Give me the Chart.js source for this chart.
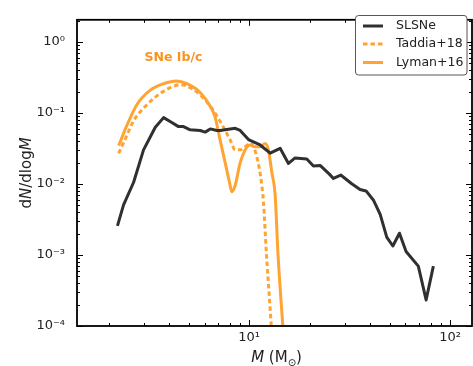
<!DOCTYPE html>
<html>
<head>
<meta charset="utf-8">
<script src="https://cdn.jsdelivr.net/npm/chart.js@4"></script>
<style>
  body { margin: 0; background: #fff; }
  #wrap { width: 473px; height: 366px; }
</style>
</head>
<body>
<div id="wrap"><canvas id="chart"></canvas></div>
<script>
// values (mass in Msun, dN/dlogM)
const slsneMass = [2.21, 2.37, 2.66, 2.98, 3.41, 3.75, 4.12, 4.45, 4.71, 5.09, 5.70, 6.04, 6.40, 6.91, 7.17, 8.52, 9.02, 9.92, 11.34, 12.72, 14.26, 15.69, 16.93, 19.36, 20.89, 22.55, 25.08, 26.25, 28.57, 32.4, 35.65, 38.2, 41.5, 44.9, 48.4, 51.9, 56.0, 60.4, 69.5, 76.0, 82.6];
const slsneDens = [0.00258, 0.0051, 0.0106, 0.0303, 0.063, 0.0863, 0.0738, 0.0644, 0.0644, 0.058, 0.0568, 0.0539, 0.0598, 0.0568, 0.0568, 0.061, 0.0568, 0.0423, 0.0355, 0.0272, 0.0319, 0.0195, 0.0233, 0.0226, 0.0179, 0.0183, 0.0138, 0.0120, 0.0134, 0.0101, 0.00836, 0.0080, 0.00597, 0.00373, 0.00179, 0.00134, 0.00203, 0.00112, 0.000698, 0.000233, 0.000698];

const taddiaMass = [2.24, 2.42, 2.66, 3.10, 3.61, 4.12, 4.54, 5.19, 5.93, 6.40, 6.91, 7.45, 8.05, 8.52, 9.02, 9.55, 10.1, 10.5, 10.9, 11.25, 11.56, 11.78, 12.18, 12.65, 12.95];
const taddiaDens = [0.027, 0.0436, 0.0778, 0.131, 0.189, 0.233, 0.251, 0.221, 0.162, 0.125, 0.091, 0.063, 0.0415, 0.0303, 0.0303, 0.0336, 0.0373, 0.0336, 0.0246, 0.0162, 0.0096, 0.00566, 0.00106, 0.00022, 0.00008];

const lymanMass = [2.24, 2.46, 2.76, 3.22, 3.75, 4.35, 4.90, 5.70, 6.40, 6.78, 7.17, 7.60, 7.98, 8.20, 8.52, 9.02, 9.55, 10.1, 10.7, 11.34, 12.0, 12.47, 12.97, 13.47, 13.91, 14.42, 14.8];
const lymanDens = [0.0347, 0.0665, 0.131, 0.21, 0.259, 0.283, 0.259, 0.195, 0.125, 0.0863, 0.0415, 0.0199, 0.0106, 0.0078, 0.0096, 0.0199, 0.0303, 0.0355, 0.0336, 0.0336, 0.0373, 0.0303, 0.0145, 0.00699, 0.00106, 0.00022, 0.00008];

const seriesLabels = ["SLSNe", "Taddia+18", "Lyman+16"];
const xTickValues = [10, 100];
const yTickValues = [1e-4, 1e-3, 1e-2, 1e-1, 1];
const noteText = "SNe Ib/c";

const BLACK = "#303030";
const ORANGE = "#FFA433";
const FONT = "'DejaVu Sans', sans-serif";

const supMap = { "-": "\u207B", "0": "\u2070", "1": "\u00B9", "2": "\u00B2", "3": "\u00B3", "4": "\u2074" };
function powLabel(v) {
  const e = Math.round(Math.log10(v));
  return "10" + String(e).split("").map((c) => supMap[c]).join("");
}

const pts = (xs, ys) => xs.map((x, i) => ({ x: x, y: ys[i] }));

// draws a run of text pieces with different fonts, centred on cx
function drawRuns(ctx, runs, cx, cy) {
  let w = 0;
  runs.forEach((r) => { ctx.font = r.font; r.w = ctx.measureText(r.t).width; w += r.w; });
  let x = cx - w / 2;
  runs.forEach((r) => {
    ctx.font = r.font;
    ctx.fillText(r.t, x, cy + (r.dy || 0));
    x += r.w;
  });
}

const decor = {
  id: "decor",
  afterDatasetsDraw(chart) {
    const { ctx, chartArea: a, scales } = chart;
    const sx = scales.x, sy = scales.y;
    ctx.save();
    ctx.strokeStyle = "#000";
    ctx.lineWidth = 1;
    ctx.beginPath();
    // x ticks, bottom and top, pointing inward
    for (let k = 0; k <= 2; k++) {
      for (let m = 1; m <= 9; m++) {
        const v = m * Math.pow(10, k);
        if (v < sx.min || v > sx.max) continue;
        const px = Math.round(sx.getPixelForValue(v)) + 0.5;
        const len = m === 1 ? 6 : 3;
        ctx.moveTo(px, a.bottom); ctx.lineTo(px, a.bottom - len);
        ctx.moveTo(px, a.top); ctx.lineTo(px, a.top + len);
      }
    }
    for (let k = -4; k <= 0; k++) {
      for (let m = 1; m <= 9; m++) {
        const v = m * Math.pow(10, k);
        if (v < sy.min || v > sy.max) continue;
        const py = Math.round(sy.getPixelForValue(v)) + 0.5;
        const len = m === 1 ? 6 : 3;
        ctx.moveTo(a.left, py); ctx.lineTo(a.left + len, py);
        ctx.moveTo(a.right, py); ctx.lineTo(a.right - len, py);
      }
    }
    ctx.stroke();
    ctx.lineWidth = 1.8;
    ctx.strokeRect(a.left, a.top, a.right - a.left, a.bottom - a.top);

    // annotation
    ctx.fillStyle = "#F7931E";
    ctx.font = "bold 12.5px " + FONT;
    ctx.textAlign = "center";
    ctx.textBaseline = "middle";
    ctx.fillText(noteText, sx.getPixelForValue(4.2), sy.getPixelForValue(0.6));

    // legend
    const lx = 355.5, ly = 15.5, lw = 111.5, lh = 59.5;
    ctx.fillStyle = "#fff";
    ctx.strokeStyle = "#555";
    ctx.lineWidth = 1;
    ctx.beginPath();
    ctx.roundRect(lx, ly, lw, lh, 3);
    ctx.fill();
    ctx.stroke();
    const rowY = [26, 44, 62.5];
    chart.data.datasets.forEach((ds, i) => {
      ctx.strokeStyle = ds.borderColor;
      ctx.lineWidth = ds.borderWidth;
      ctx.setLineDash(ds.borderDash || []);
      ctx.beginPath();
      ctx.moveTo(363, rowY[i]);
      ctx.lineTo(383, rowY[i]);
      ctx.stroke();
      ctx.setLineDash([]);
      ctx.fillStyle = "#222";
      ctx.font = "12.5px " + FONT;
      ctx.textAlign = "left";
      ctx.textBaseline = "middle";
      ctx.fillText(ds.label, 396, rowY[i]);
    });

    // axis titles with italic symbols
    ctx.fillStyle = "#222";
    ctx.textAlign = "left";
    ctx.textBaseline = "alphabetic";
    const reg = "15px " + FONT, ita = "italic 15px " + FONT;
    drawRuns(ctx, [
      { t: "M", font: ita },
      { t: " (M", font: reg },
      { t: "\u2299", font: "10px " + FONT, dy: 4 },
      { t: ")", font: reg }
    ], (a.left + a.right) / 2 + 2, 362);
    ctx.save();
    ctx.translate(31, (a.top + a.bottom) / 2);
    ctx.rotate(-Math.PI / 2);
    drawRuns(ctx, [
      { t: "d", font: reg },
      { t: "N", font: ita },
      { t: "/dlog", font: reg },
      { t: "M", font: ita }
    ], 0, 0);
    ctx.restore();
    ctx.restore();
  }
};

new Chart(document.getElementById("chart").getContext("2d"), {
  type: "line",
  data: {
    datasets: [
      { label: seriesLabels[0], data: pts(slsneMass, slsneDens), borderColor: BLACK, borderWidth: 3, tension: 0 },
      { label: seriesLabels[1], data: pts(taddiaMass, taddiaDens), borderColor: ORANGE, borderWidth: 3, borderDash: [4.5, 3], cubicInterpolationMode: "monotone" },
      { label: seriesLabels[2], data: pts(lymanMass, lymanDens), borderColor: ORANGE, borderWidth: 3, cubicInterpolationMode: "monotone" }
    ]
  },
  options: {
    responsive: true,
    maintainAspectRatio: false,
    animation: false,
    layout: { padding: { top: 9, right: 1, left: 0, bottom: 0 } },
    datasets: { line: { pointRadius: 0, fill: false, clip: 0, borderCapStyle: "butt", borderJoinStyle: "round" } },
    plugins: { legend: { display: false }, tooltip: { enabled: false } },
    scales: {
      x: {
        type: "logarithmic",
        min: 1.39,
        max: 128.6,
        grid: { display: false, drawTicks: false },
        border: { display: false },
        ticks: { autoSkip: false, maxRotation: 0, padding: 4, color: "#222", font: { family: FONT, size: 13 }, callback: (v) => powLabel(v) },
        afterBuildTicks: (s) => { s.ticks = xTickValues.map((v) => ({ value: v })); },
        afterFit: (s) => { s.height = 40; }
      },
      y: {
        type: "logarithmic",
        min: 1e-4,
        max: 2.06,
        grid: { display: false, drawTicks: false },
        border: { display: false },
        ticks: { autoSkip: false, padding: 12, color: "#222", font: { family: FONT, size: 13 }, callback: (v) => powLabel(v) },
        afterBuildTicks: (s) => { s.ticks = yTickValues.map((v) => ({ value: v })); },
        afterFit: (s) => { s.width = 77; }
      }
    }
  },
  plugins: [decor]
});
</script>
</body>
</html>
